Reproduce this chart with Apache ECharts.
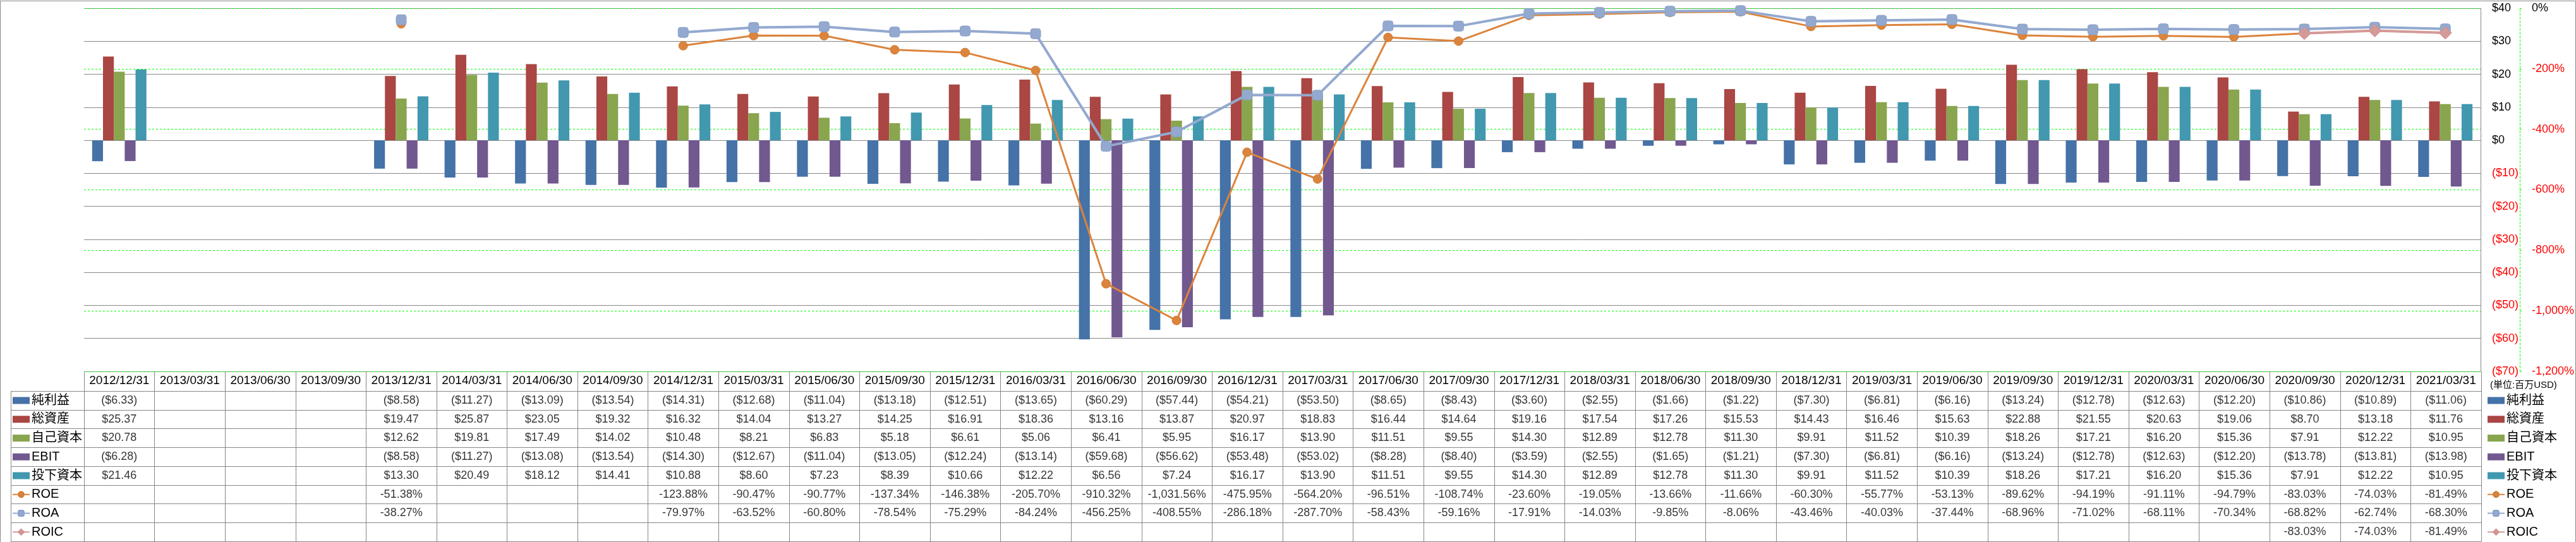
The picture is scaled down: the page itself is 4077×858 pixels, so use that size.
<!DOCTYPE html>
<html><head><meta charset="utf-8">
<script src="https://cdn.jsdelivr.net/npm/echarts@6/dist/echarts.min.js"></script>
<style>
html,body{margin:0;padding:0;background:#fff;}
#wrap{position:relative;width:4077px;height:858px;}
#chart{position:absolute;left:0;top:0;width:4077px;height:858px;}
#frame{position:absolute;left:0;top:1px;width:4075px;height:856px;border:1px solid #8a8a8a;pointer-events:none;}
</style></head>
<body><div id="wrap"><div id="chart"></div><div id="frame"></div></div>
<script>
// ---- data ----
const categories = ['2012/12/31','2013/03/31','2013/06/30','2013/09/30','2013/12/31','2014/03/31','2014/06/30','2014/09/30','2014/12/31','2015/03/31','2015/06/30','2015/09/30','2015/12/31','2016/03/31','2016/06/30','2016/09/30','2016/12/31','2017/03/31','2017/06/30','2017/09/30','2017/12/31','2018/03/31','2018/06/30','2018/09/30','2018/12/31','2019/03/31','2019/06/30','2019/09/30','2019/12/31','2020/03/31','2020/06/30','2020/09/30','2020/12/31','2021/03/31'];
const netIncome = [-6.33,null,null,null,-8.58,-11.27,-13.09,-13.54,-14.31,-12.68,-11.04,-13.18,-12.51,-13.65,-60.29,-57.44,-54.21,-53.50,-8.65,-8.43,-3.60,-2.55,-1.66,-1.22,-7.30,-6.81,-6.16,-13.24,-12.78,-12.63,-12.20,-10.86,-10.89,-11.06];
const totalAssets = [25.37,null,null,null,19.47,25.87,23.05,19.32,16.32,14.04,13.27,14.25,16.91,18.36,13.16,13.87,20.97,18.83,16.44,14.64,19.16,17.54,17.26,15.53,14.43,16.46,15.63,22.88,21.55,20.63,19.06,8.70,13.18,11.76];
const equity = [20.78,null,null,null,12.62,19.81,17.49,14.02,10.48,8.21,6.83,5.18,6.61,5.06,6.41,5.95,16.17,13.90,11.51,9.55,14.30,12.89,12.78,11.30,9.91,11.52,10.39,18.26,17.21,16.20,15.36,7.91,12.22,10.95];
const ebit = [-6.28,null,null,null,-8.58,-11.27,-13.08,-13.54,-14.30,-12.67,-11.04,-13.05,-12.24,-13.14,-59.68,-56.62,-53.48,-53.02,-8.28,-8.40,-3.59,-2.55,-1.65,-1.21,-7.30,-6.81,-6.16,-13.24,-12.78,-12.63,-12.20,-13.78,-13.81,-13.98];
const investedCapital = [21.46,null,null,null,13.30,20.49,18.12,14.41,10.88,8.60,7.23,8.39,10.66,12.22,6.56,7.24,16.17,13.90,11.51,9.55,14.30,12.89,12.78,11.30,9.91,11.52,10.39,18.26,17.21,16.20,15.36,7.91,12.22,10.95];
const roe = [null,null,null,null,-51.38,null,null,null,-123.88,-90.47,-90.77,-137.34,-146.38,-205.70,-910.32,-1031.56,-475.95,-564.20,-96.51,-108.74,-23.60,-19.05,-13.66,-11.66,-60.30,-55.77,-53.13,-89.62,-94.19,-91.11,-94.79,-83.03,-74.03,-81.49];
const roa = [null,null,null,null,-38.27,null,null,null,-79.97,-63.52,-60.80,-78.54,-75.29,-84.24,-456.25,-408.55,-286.18,-287.70,-58.43,-59.16,-17.91,-14.03,-9.85,-8.06,-43.46,-40.03,-37.44,-68.96,-71.02,-68.11,-70.34,-68.82,-62.74,-68.30];
const roic = [null,null,null,null,null,null,null,null,null,null,null,null,null,null,null,null,null,null,null,null,null,null,null,null,null,null,null,null,null,null,null,-83.03,-74.03,-81.49];
const seriesNames = ['純利益','総資産','自己資本','EBIT','投下資本','ROE','ROA','ROIC'];
const unitLabel = '(単位:百万USD)';
const moneyTicks = {min:-70, max:40, interval:10};
const pctTicks = {min:-1200, max:0, interval:200};

// ---- styles ----
const C = {ni:'#4572A7', ta:'#AA4643', eq:'#89A54E', eb:'#71588F', ic:'#4198AF', roe:'#DB843D', roa:'#93A9CF', roic:'#D49A98'};
const GRAY = '#878787';
const RED = '#FF0000';
const FONT = "'Liberation Sans','Noto Sans CJK JP',sans-serif";
const LEFT = 133, RIGHT = 150, TOP = 13, PLOT_H = 575, TABLE_TOP = 619, TABLE_H = 238;

function money(v){ if(v==null) return ''; const s='$'+Math.abs(v).toFixed(2); return v<0?'('+s+')':s; }
function pct(v){ if(v==null) return ''; return v.toLocaleString('en-US',{minimumFractionDigits:2,maximumFractionDigits:2})+'%'; }

const rows = [netIncome,totalAssets,equity,ebit,investedCapital,roe,roa,roic];
const fmts = [money,money,money,money,money,pct,pct,pct];
const tableData = [];
rows.forEach((r,ri)=>{ r.forEach((v,ci)=>{ const t=fmts[ri](v); if(t) tableData.push([ci,ri,t]); }); });

function bar(name,data,color){
  return {name, type:'bar', data, xAxisIndex:0, yAxisIndex:0, barGap:'0%', barCategoryGap:'23%', itemStyle:{color}};
}
function line(name,data,color,symbol,size,width,border){
  return {name, type:'line', data, xAxisIndex:0, yAxisIndex:1, symbol, symbolSize:size, showAllSymbol:true,
    lineStyle:{color, width}, itemStyle:{color, borderColor:border, borderWidth:1}, connectNulls:false, z:3};
}

const legendData = [
  {name:'純利益',icon:'rect'},{name:'総資産',icon:'rect'},{name:'自己資本',icon:'rect'},{name:'EBIT',icon:'rect'},{name:'投下資本',icon:'rect'},
  {name:'ROE'},{name:'ROA'},{name:'ROIC'}
];
function legend(left){
  return {data:legendData, orient:'vertical', left, top:624, padding:0, itemWidth:27, itemHeight:11, itemGap:9.75,
    textStyle:{fontSize:20, lineHeight:20, color:'#000', fontFamily:FONT, padding:[0,0,0,-2]}, selectedMode:true};
}

const option = {
  animation:false,
  title:{text:unitLabel, left:3941, top:602, padding:0, textStyle:{fontSize:15, fontWeight:'normal', color:'#000', fontFamily:FONT}},
  legend:[legend(19), legend(3936)],
  grid:[
    {left:LEFT, right:RIGHT, top:TOP, height:PLOT_H},
    {left:LEFT, right:RIGHT, top:TABLE_TOP, height:TABLE_H}
  ],
  xAxis:[
    {type:'category', gridIndex:0, data:categories, axisLine:{show:false}, axisTick:{show:false}, axisLabel:{show:false}},
    {type:'category', gridIndex:1, data:categories, position:'top',
      axisLine:{show:true, lineStyle:{color:GRAY}},
      axisTick:{show:true, interval:0, length:31, lineStyle:{color:GRAY}},
      axisLabel:{show:true, interval:0, margin:7, fontSize:19, color:'#000', fontFamily:FONT},
      splitLine:{show:true, interval:0, lineStyle:{color:GRAY}}},
    {type:'category', gridIndex:1, data:categories, position:'bottom',
      axisLine:{show:true, lineStyle:{color:GRAY}}, axisTick:{show:false}, axisLabel:{show:false}}
  ],
  yAxis:[
    {type:'value', gridIndex:0, position:'right', min:moneyTicks.min, max:moneyTicks.max, interval:moneyTicks.interval,
      axisLine:{show:true, lineStyle:{color:GRAY}}, axisTick:{show:false},
      axisLabel:{margin:18, fontSize:18, fontFamily:FONT,
        formatter:v=> v<0 ? '($'+(-v)+')' : '$'+v,
        color:v=> (Number(v)<0 ? RED : '#000')},
      splitLine:{show:true, lineStyle:{color:GRAY, width:1}}},
    {type:'value', gridIndex:0, position:'right', offset:62, min:pctTicks.min, max:pctTicks.max, interval:pctTicks.interval,
      axisLine:{show:true, lineStyle:{color:'#00FF00', type:[3,3]}},
      axisTick:{show:true, length:4, lineStyle:{color:'#00FF00', type:[3,3]}},
      axisLabel:{margin:19, fontSize:18, fontFamily:FONT,
        formatter:v=> Number(v).toLocaleString('en-US')+'%',
        color:v=> (Number(v)<0 ? RED : '#000')},
      splitLine:{show:true, lineStyle:{color:'#00FF00', type:[3,3], width:1}}},
    {type:'category', gridIndex:1, data:seriesNames, inverse:true, position:'left',
      axisLine:{show:true, lineStyle:{color:GRAY}},
      axisTick:{show:true, interval:0, length:116, lineStyle:{color:GRAY}},
      axisLabel:{show:false},
      splitLine:{show:true, interval:0, lineStyle:{color:GRAY}}},
    {type:'category', gridIndex:1, data:seriesNames, inverse:true, position:'left', offset:116,
      axisLine:{show:true, lineStyle:{color:GRAY}}, axisTick:{show:false}, axisLabel:{show:false}}
  ],
  series:[
    bar('純利益', netIncome, C.ni),
    bar('総資産', totalAssets, C.ta),
    bar('自己資本', equity, C.eq),
    bar('EBIT', ebit, C.eb),
    bar('投下資本', investedCapital, C.ic),
    line('ROE', roe, C.roe, 'circle', 14, 3, '#D07A30'),
    line('ROA', roa, C.roa, 'roundRect', 16, 4, '#8AA0C8'),
    line('ROIC', roic, C.roic, 'diamond', 20, 4, '#CC8F8D'),
    {name:'table', type:'scatter', xAxisIndex:1, yAxisIndex:2, data:tableData, symbolSize:1, silent:true,
      itemStyle:{color:'rgba(0,0,0,0)'},
      label:{show:true, position:'inside', formatter:p=>p.data[2], fontSize:18, color:'#000', fontFamily:FONT}}
  ]
};
const chart = echarts.init(document.getElementById('chart'), null, {renderer:'canvas'});
chart.setOption(option);
</script></body></html>
